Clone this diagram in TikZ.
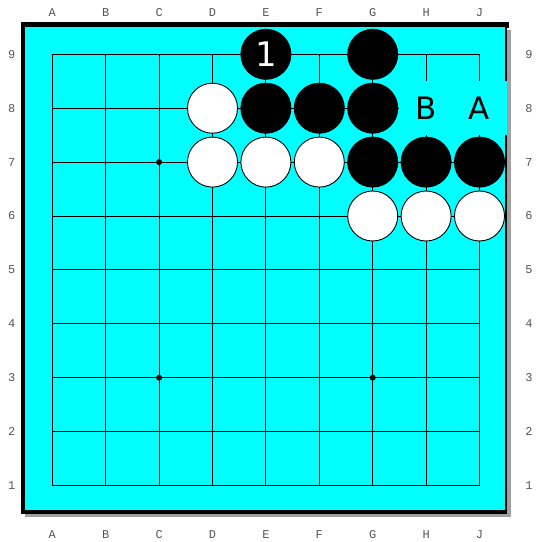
\documentclass[tikz,border=0pt]{standalone}
\usepackage{fontspec}
\setmainfont{DejaVu Sans}
\newfontfamily\coordfont{Liberation Mono}
\definecolor{boardcyan}{RGB}{0,255,255}
\definecolor{shadowgray}{RGB}{160,160,160}
\definecolor{coordgray}{RGB}{85,85,85}
\begin{document}
\begin{tikzpicture}[x=1bp,y=-1bp,
  gridline/.style={line width=0.9bp,black},
  hoshi/.style={circle,fill=black,inner sep=0pt,minimum size=6bp},
  stone/.style={circle,draw=black,line width=0.9bp,inner sep=0pt,minimum size=50bp},
  bstone/.style={stone,fill=black,text=white,font=\fontsize{34}{34}\selectfont},
  wstone/.style={stone,fill=white},
  marklbl/.style={fill=boardcyan,inner sep=0pt,minimum width=54bp,minimum height=54bp,text=black,font=\fontsize{31}{31}\selectfont},
  coordlbl/.style={text=coordgray,inner sep=0pt,font=\coordfont\fontsize{12}{12}\selectfont}
]
\useasboundingbox (0,0) rectangle (536,542);
\fill[white] (0,0) rectangle (536,542);
% board with frame and shadow
\fill[shadowgray] (25,30) rectangle (510.5,516.7);
\fill[black] (20.7,22.3) rectangle (507,513.5);
\fill[black] (505,22.3) rectangle (509,28);
\fill[boardcyan] (25,27.3) rectangle (505.2,509.6);
% intersections
\foreach \i in {1,...,9}{
  \foreach \j in {1,...,9}{
    \coordinate (p-\i-\j) at ({52.3+53.4*(\i-1)},{54.3+53.9*(9-\j)});
  }
}
% grid
\foreach \k in {1,...,9}{
  \draw[gridline] (p-1-\k) -- (p-9-\k);
  \draw[gridline] (p-\k-1) -- (p-\k-9);
}
% star points
\node[hoshi] (h1) at (p-3-7) {};
\node[hoshi] (h2) at (p-3-3) {};
\node[hoshi] (h3) at (p-7-3) {};
\node[hoshi] (h4) at (p-7-7) {};
% coordinates
\foreach \l [count=\i] in {A,B,C,D,E,F,G,H,J}{
  \node[coordlbl] (ct-\i) at ({52.3+53.4*(\i-1)},12.7) {\l};
  \node[coordlbl] (cb-\i) at ({52.3+53.4*(\i-1)},535) {\l};
}
\foreach \j in {1,...,9}{
  \node[coordlbl] (cl-\j) at (11.7,{54.3+53.9*(9-\j)}) {\j};
  \node[coordlbl] (cr-\j) at (529,{54.3+53.9*(9-\j)}) {\j};
}
% black stones
\node[bstone] (e9) at (p-5-9) {1};
\node[bstone] (g9) at (p-7-9) {};
\node[bstone] (e8) at (p-5-8) {};
\node[bstone] (f8) at (p-6-8) {};
\node[bstone] (g8) at (p-7-8) {};
\node[bstone] (g7) at (p-7-7) {};
\node[bstone] (h7) at (p-8-7) {};
\node[bstone] (j7) at (p-9-7) {};
% white stones
\node[wstone] (d8) at (p-4-8) {};
\node[wstone] (d7) at (p-4-7) {};
\node[wstone] (e7) at (p-5-7) {};
\node[wstone] (f7) at (p-6-7) {};
\node[wstone] (g6) at (p-7-6) {};
\node[wstone] (h6) at (p-8-6) {};
\node[wstone] (j6) at (p-9-6) {};
% letter marks
\node[marklbl] (mb) at (p-8-8) {B};
\node[marklbl] (ma) at (p-9-8) {A};
\end{tikzpicture}
\end{document}
